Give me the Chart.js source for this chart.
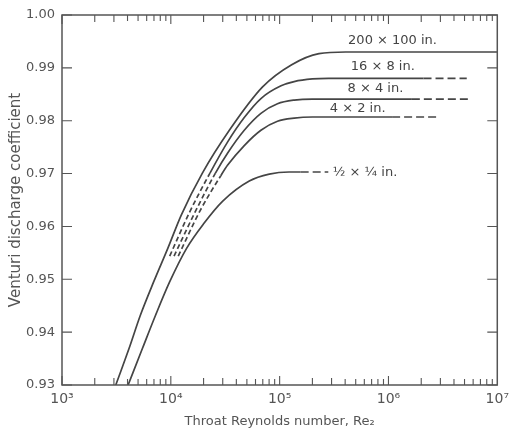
<!DOCTYPE html>
<html><head><meta charset="utf-8">
<script src="https://cdn.jsdelivr.net/npm/chart.js@4/dist/chart.umd.min.js"></script>
<style>html,body{margin:0;padding:0;background:#fff}</style>
</head><body>
<canvas id="c" width="515" height="439"></canvas>
<script>
// ---- data ----
const xTickValues = [1e3, 1e4, 1e5, 1e6, 1e7];
const xTickLabels = ['10³', '10⁴', '10⁵', '10⁶', '10⁷'];
const yTickValues = [0.93, 0.94, 0.95, 0.96, 0.97, 0.98, 0.99, 1.00];

const seriesNames = ['200 × 100 in.', '16 × 8 in.', '8 × 4 in.', '4 × 2 in.', '½ × ¼ in.'];

const re200x100 = [3120, 4130, 5250, 6950, 9400, 12500, 19500, 34500, 69700, 129000, 230000, 404000, 10000000];
const cd200x100 = [0.9300, 0.9369, 0.9432, 0.9495, 0.9559, 0.9622, 0.9701, 0.9782, 0.9864, 0.9906, 0.9927, 0.9930, 0.9930];

const re16x8 = [9770, 14800, 22900, 33300, 47300, 67300, 103000, 136000, 200000, 282000, 2100000, 5240000];
const cd16x8 = [0.9544, 0.9626, 0.9701, 0.9760, 0.9806, 0.9842, 0.9866, 0.9874, 0.9879, 0.9880, 0.9880, 0.9880];

const re8x4 = [10700, 16600, 25700, 33300, 47300, 67300, 95500, 136000, 200000, 1640000, 5620000];
const cd8x4 = [0.9544, 0.9626, 0.9701, 0.9739, 0.9782, 0.9814, 0.9832, 0.9839, 0.9841, 0.9841, 0.9841];

const re4x2 = [11700, 18600, 28800, 33300, 47300, 67300, 95500, 136000, 200000, 1080000, 2880000];
const cd4x2 = [0.9544, 0.9630, 0.9696, 0.9716, 0.9753, 0.9782, 0.9799, 0.9805, 0.9807, 0.9807, 0.9807];

const reHalfQuarter = [4050, 5480, 7240, 9750, 14000, 20000, 30000, 52600, 80200, 122000, 156000, 280000];
const cdHalfQuarter = [0.9300, 0.9369, 0.9432, 0.9495, 0.9559, 0.9605, 0.9648, 0.9686, 0.9699, 0.9703, 0.9703, 0.9703];

// Re ranges drawn dashed (below dashBelow, at/after dashFrom)
const dashBelow = [null, 22900, 25700, 28800, null];
const dashFrom = [null, 2100000, 1640000, 1080000, 156000];

// label anchors (data coordinates)
const labelRe = [1.09e6, 8.86e5, 7.59e5, 5.21e5, 6.1e5];
const labelCd = [0.9951, 0.9902, 0.9860, 0.9822, 0.9701];

// ---- chart ----
const reArrays = [re200x100, re16x8, re8x4, re4x2, reHalfQuarter];
const cdArrays = [cd200x100, cd16x8, cd8x4, cd4x2, cdHalfQuarter];
const INK = '#454545';
const TEXT = '#555';
const FONT = "'DejaVu Sans', sans-serif";

const datasets = seriesNames.map((name, s) => ({
  label: name,
  data: reArrays[s].map((x, i) => ({x: x, y: cdArrays[s][i]})),
  borderColor: INK,
  borderWidth: 1.7,
  pointRadius: 0,
  fill: false,
  cubicInterpolationMode: 'monotone',
  segment: {
    borderDash: ctx => {
      const x0 = ctx.p0.parsed.x;
      if (dashBelow[s] !== null && x0 < dashBelow[s]) return [5, 3];
      if (dashFrom[s] !== null && x0 >= dashFrom[s]) return [8, 4];
      return undefined;
    }
  }
}));

const framePlugin = {
  id: 'frame',
  afterDatasetsDraw(chart) {
    const {ctx, chartArea: a, scales: {x, y}} = chart;
    ctx.save();
    ctx.strokeStyle = '#555';
    ctx.lineWidth = 1.5;
    ctx.strokeRect(a.left, a.top, a.right - a.left, a.bottom - a.top);
    ctx.lineWidth = 1.1;
    ctx.beginPath();
    for (let e = 3; e <= 6; e++) {
      for (let k = 1; k <= 9; k++) {
        const v = k * Math.pow(10, e);
        const px = x.getPixelForValue(v);
        const len = k === 1 ? 9 : (k <= 3 ? 7 : 6);
        ctx.moveTo(px, a.bottom); ctx.lineTo(px, a.bottom - len);
        ctx.moveTo(px, a.top); ctx.lineTo(px, a.top + len);
      }
    }
    yTickValues.forEach(v => {
      const py = y.getPixelForValue(v);
      ctx.moveTo(a.left, py); ctx.lineTo(a.left + 10, py);
      ctx.moveTo(a.right, py); ctx.lineTo(a.right - 10, py);
    });
    ctx.stroke();
    // curve labels
    ctx.fillStyle = '#444';
    ctx.font = "13px " + FONT;
    ctx.textAlign = 'center';
    ctx.textBaseline = 'middle';
    seriesNames.forEach((name, s) => {
      ctx.fillText(name, x.getPixelForValue(labelRe[s]), y.getPixelForValue(labelCd[s]));
    });
    ctx.restore();
  }
};

new Chart(document.getElementById('c'), {
  type: 'line',
  data: {datasets},
  options: {
    responsive: false,
    animation: false,
    layout: {padding: {top: 15, right: 16, left: 0, bottom: 0}},
    plugins: {legend: {display: false}, tooltip: {enabled: false}},
    scales: {
      x: {
        type: 'logarithmic',
        min: 1e3, max: 1e7,
        afterBuildTicks: sc => { sc.ticks = xTickValues.map(v => ({value: v})); },
        afterFit: sc => { sc.height = 54; },
        grid: {display: false, drawTicks: false},
        border: {display: false},
        ticks: {
          autoSkip: false, maxRotation: 0, padding: 6,
          color: TEXT, font: {family: FONT, size: 14},
          callback: v => { const i = xTickValues.indexOf(v); return i >= 0 ? xTickLabels[i] : ''; }
        },
        title: {display: true, text: 'Throat Reynolds number, Re₂', color: TEXT,
                font: {family: FONT, size: 13}, padding: {top: 0, bottom: 10}}
      },
      y: {
        type: 'linear',
        min: 0.93, max: 1.0,
        afterBuildTicks: sc => { sc.ticks = yTickValues.map(v => ({value: v})); },
        afterFit: sc => { sc.width = 62; },
        grid: {display: false, drawTicks: false},
        border: {display: false},
        ticks: {padding: 7, color: TEXT, font: {family: FONT, size: 13},
                callback: v => Number(v).toFixed(2)},
        title: {display: true, text: 'Venturi discharge coefficient', color: TEXT,
                font: {family: FONT, size: 15}, padding: {top: 7, bottom: 0}}
      }
    }
  },
  plugins: [framePlugin]
});
</script>
</body></html>
